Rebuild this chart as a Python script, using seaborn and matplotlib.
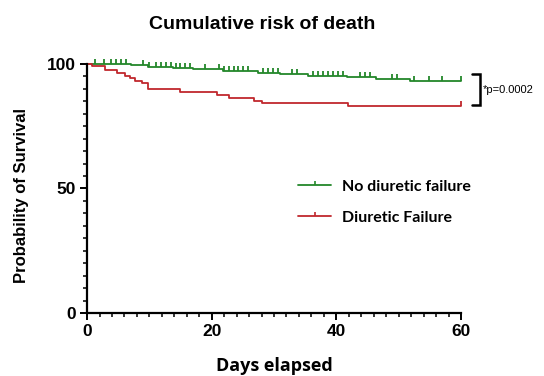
import numpy as np
import pandas as pd
import seaborn as sns
import matplotlib
matplotlib.use("Agg")
import matplotlib.pyplot as plt
from matplotlib.path import Path
from matplotlib.lines import Line2D

# ---- data ----
groups = ["No diuretic failure", "Diuretic Failure"]
colors = ["#23872a", "#c0282d"]

green_times = [0, 7.0, 9.8, 13.8, 17.0, 21.8, 27.5, 31.0, 35.5, 41.7, 46.3, 51.8, 60]
green_surv = [100, 99.4, 98.9, 98.4, 97.8, 97.3, 96.5, 95.9, 95.3, 94.6, 93.9, 93.1, 93.1]

red_times = [0, 0.75, 2.9, 4.75, 6.1, 6.9, 7.7, 8.8, 9.8, 14.9, 20.8, 22.8, 26.8, 28.0, 41.9, 60]
red_surv = [100, 99.0, 97.7, 96.4, 95.2, 94.3, 93.3, 92.2, 89.9, 88.8, 87.6, 86.4, 85.3, 84.4, 83.2, 83.2]

green_censor = [1.3, 2.7, 3.8, 4.6, 5.4, 6.2, 8.9, 10.0, 11.0, 11.8, 12.6, 13.4, 14.2, 14.9,
                15.7, 16.5, 18.9, 21.1, 21.9, 22.7, 23.5, 24.3, 25.0, 25.9, 28.3, 29.1,
                29.9, 30.7, 32.9, 33.7, 36.2, 37.0, 37.8, 38.6, 39.4, 40.2, 41.0, 43.8,
                44.6, 45.4, 48.9, 49.8, 52.4, 54.9, 57.0, 60.0]
red_censor = [60.0]

title = "Cumulative risk of death"
xlabel = "Days elapsed"
ylabel = "Probability of Survival"
pval_text = "*p=0.0002"
xticks = [0, 20, 40, 60]
yticks = [0, 50, 100]


def surv_at(times, surv, t):
    idx = np.searchsorted(times, t, side="right") - 1
    return surv[idx]


curves = pd.concat([
    pd.DataFrame({"t": green_times, "s": green_surv, "g": groups[0]}),
    pd.DataFrame({"t": red_times, "s": red_surv, "g": groups[1]}),
])
cens = pd.concat([
    pd.DataFrame({"t": green_censor,
                  "s": [surv_at(green_times, green_surv, t) for t in green_censor],
                  "g": groups[0]}),
    pd.DataFrame({"t": red_censor,
                  "s": [surv_at(red_times, red_surv, t) for t in red_censor],
                  "g": groups[1]}),
])

sns.set_theme(style="ticks")
plt.rcParams["font.family"] = ["Liberation Sans", "DejaVu Sans"]
plt.rcParams["text.color"] = "black"
plt.rcParams["axes.labelcolor"] = "black"
plt.rcParams["xtick.color"] = "black"
plt.rcParams["ytick.color"] = "black"

fig = plt.figure(figsize=(5.44, 3.76), dpi=100)
ax = fig.add_axes([0.16, 0.1676, 0.6874, 0.6622])

palette = dict(zip(groups, colors))
sns.lineplot(data=curves, x="t", y="s", hue="g", palette=palette, estimator=None,
             drawstyle="steps-post", linewidth=1.3, ax=ax, legend=False, clip_on=False)

tick_marker = Path([(0, 0), (0, 1)])
for g in groups:
    sub = cens[cens["g"] == g]
    sns.scatterplot(data=sub, x="t", y="s", marker=tick_marker, s=45,
                    color=palette[g], edgecolor=palette[g], linewidth=1.3,
                    ax=ax, legend=False, clip_on=False, zorder=3)

ax.set_xlim(0, 60)
ax.set_ylim(0, 100)
ax.set_xticks(xticks)
ax.set_yticks(yticks)
ax.set_xticks(np.arange(0, 61, 2), minor=True)
ax.set_yticks(np.arange(0, 101, 5), minor=True)
ax.set_xlabel("")
ax.set_ylabel("")
sns.despine(ax=ax)
for sp in ["left", "bottom"]:
    ax.spines[sp].set_linewidth(1.6)
    ax.spines[sp].set_color("black")
ax.tick_params(which="major", length=5, width=1.4, color="black", pad=3)
ax.tick_params(which="minor", length=3, width=1.1, color="black")
tick_font = ["Liberation Sans Narrow", "Liberation Sans", "DejaVu Sans"]
for lab in ax.get_xticklabels() + ax.get_yticklabels():
    lab.set_family(tick_font)
    lab.set_fontweight("bold")
    lab.set_fontsize(12.5)
    lab.set_color("black")

fig.text(0.482, 0.934, title, ha="center", va="center", fontsize=14, fontweight="bold",
         color="black")
fig.text(0.504, 0.027, xlabel, ha="center", va="center", fontsize=13, fontweight="bold",
         color="black", family=["Open Sans", "DejaVu Sans"])
fig.text(0.040, 0.48, ylabel, ha="center", va="center", rotation=90, fontsize=12,
         fontweight="bold", color="black")

handles = [Line2D([0], [0], color=c, lw=1.3, marker=tick_marker, markersize=6,
                  markeredgewidth=1.2, markeredgecolor=c) for c in colors]
leg = ax.legend(handles, groups, loc="center left", bbox_to_anchor=(0.525, 0.445),
                frameon=False, handlelength=2.1, handletextpad=0.7, labelspacing=1.05,
                prop={"family": ["Lato", "DejaVu Sans"], "weight": "bold", "size": 11.5})
for t in leg.get_texts():
    t.set_color("black")

# significance bracket
ax.plot([61.8, 63.1, 63.1, 61.8], [96.0, 96.0, 83.6, 83.6], color="black", lw=1.8,
        clip_on=False, solid_joinstyle="miter")
ax.text(63.5, 89.5, pval_text, ha="left", va="center", fontsize=8, clip_on=False,
        color="black")

fig.savefig("out.png", dpi=100)
